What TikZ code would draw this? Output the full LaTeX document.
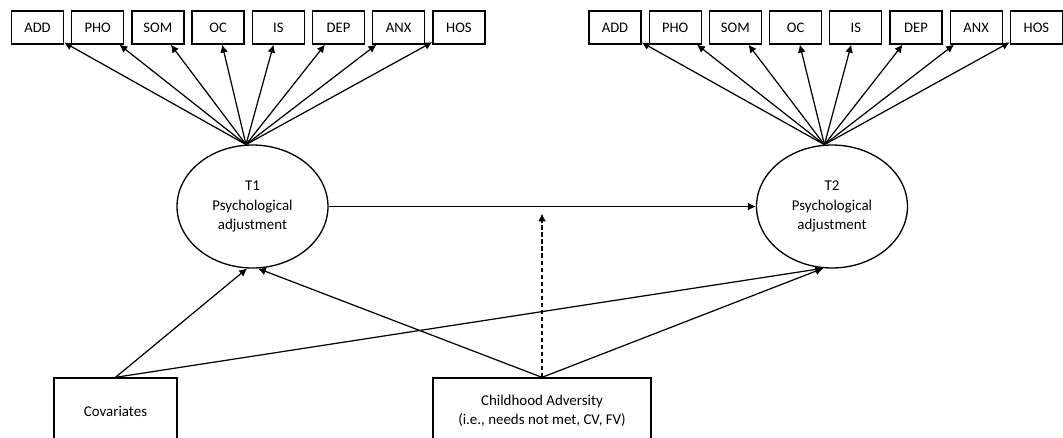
\documentclass[tikz,border=0pt]{standalone}
\usepackage{fontspec}
\setmainfont{Carlito}
\usetikzlibrary{shapes.geometric,arrows.meta}

\tikzset{
  indic/.style={rectangle, draw=black, line width=0.75pt, minimum width=1.04cm, minimum height=0.66cm, inner sep=1pt, font=\fontsize{8.3}{10}\selectfont},
  latent/.style={ellipse, draw=black, line width=0.75pt, minimum width=3.02cm, minimum height=2.46cm, inner sep=0pt, align=center, font=\fontsize{8.5}{11}\selectfont},
  obs/.style={rectangle, draw=black, line width=0.75pt, minimum height=1.32cm, inner sep=2pt, align=center, font=\fontsize{8.5}{11}\selectfont},
  path/.style={line width=0.7pt, -{Latex[length=4.5pt,width=4.5pt]}}
}

\begin{document}
\begin{tikzpicture}[x=0.02cm, y=-0.02cm]
			\useasboundingbox (0,0) rectangle (1063,437);

			% Define latent variables
			\node[latent] (T1) at (252.5, 206.5) {T1\\Psychological\\adjustment};
			\node[latent] (T2) at (832, 206.5) {T2\\Psychological\\adjustment};

			% Define observed predictors
			\node[obs, minimum width=2.46cm] (cov) at (115.5, 411) {Covariates};
			\node[obs, minimum width=4.36cm] (adv) at (542, 411) {Childhood Adversity\\(i.e., needs not met, CV, FV)};

			% Indicator boxes with loadings
			\foreach \lab [count=\i from 0] in {ADD,PHO,SOM,OC,IS,DEP,ANX,HOS} {
				\node[indic] (a\i) at (37.5+60.2*\i, 27.5) {\lab};
				\node[indic] (b\i) at (615+60.2*\i, 27.5) {\lab};
				\draw[path] (T1.96) -- (a\i);
				\draw[path] (T2.97) -- (b\i);
			}

			% Structural paths
			\coordinate (mod) at (adv.north |- T1.east);
			\draw[path] (T1.east) -- (T2.west);
			\draw[path, dash pattern=on 2.5pt off 1.5pt, shorten >=4pt] (adv.north) -- (mod);
			\draw[path] (cov.north) -- (T1.-95);
			\draw[path] (adv.north) -- (T1.-85);
			\draw[path] (cov.north) -- (T2.-98);
			\draw[path] (adv.north) -- (T2.-98);

		\end{tikzpicture}
\end{document}
